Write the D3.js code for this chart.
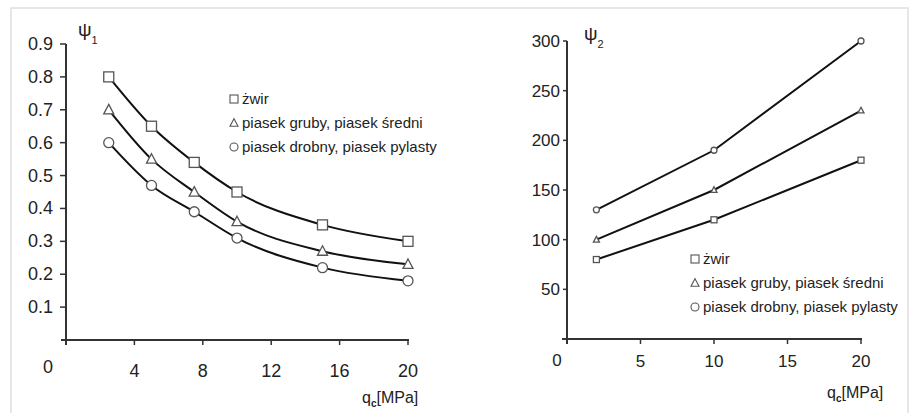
<!DOCTYPE html>
<html>
<head>
<meta charset="utf-8">
<script src="https://cdn.jsdelivr.net/npm/d3@7"></script>
<style>
  body { margin: 0; background: #fff; }
  svg { display: block; font-family: "Liberation Sans", Arial, sans-serif; }
</style>
</head>
<body>
<div id="chartSection"></div>
<script>
// left chart: psi1 vs qc
var x1Values = [2.5, 5, 7.5, 10, 15, 20];
var psi1Zwir = [0.80, 0.65, 0.54, 0.45, 0.35, 0.30];
var psi1Gruby = [0.70, 0.55, 0.45, 0.36, 0.27, 0.23];
var psi1Drobny = [0.60, 0.47, 0.39, 0.31, 0.22, 0.18];
var x1Ticks = [4, 8, 12, 16, 20];
var y1Ticks = [0.1, 0.2, 0.3, 0.4, 0.5, 0.6, 0.7, 0.8, 0.9];

// right chart: psi2 vs qc
var x2Values = [2, 10, 20];
var psi2Zwir = [80, 120, 180];
var psi2Gruby = [100, 150, 230];
var psi2Drobny = [130, 190, 300];
var x2Ticks = [5, 10, 15, 20];
var y2Ticks = [50, 100, 150, 200, 250, 300];

var legendLabels = ["żwir", "piasek gruby, piasek średni", "piasek drobny, piasek pylasty"];
var markerTypes = ["square", "triangle", "circle"];

var width = 912, height = 413;
var svg = d3.select("#chartSection").append("svg")
    .attr("width", width)
    .attr("height", height);

// light frame round the figure
svg.append("rect")
    .attr("x", 11).attr("y", 8)
    .attr("width", 897).attr("height", 420)
    .attr("fill", "none")
    .attr("stroke", "#dedede")
    .attr("stroke-width", 1.5);

function marker(g, type, cx, cy, s) {
    if (type == "square") {
        g.append("rect")
            .attr("x", cx - s / 2).attr("y", cy - s / 2)
            .attr("width", s).attr("height", s);
    } else if (type == "triangle") {
        var h = s * 0.9;
        g.append("path")
            .attr("d", `M${cx},${cy - h * 0.6}L${cx + s / 2},${cy + h * 0.45}L${cx - s / 2},${cy + h * 0.45}Z`);
    } else {
        g.append("circle").attr("cx", cx).attr("cy", cy).attr("r", s / 2);
    }
}

function drawPanel(opts) {
    var g = svg.append("g");
    var xScale = d3.scaleLinear().domain([0, 20]).range(opts.xRange);
    var yScale = d3.scaleLinear().domain([0, opts.yMax]).range(opts.yRange);

    var x0 = xScale(0), y0 = yScale(0);

    // axes
    var axisColor = "#333";
    g.append("line")
        .attr("x1", x0 - 5).attr("x2", xScale(20) + 1)
        .attr("y1", y0).attr("y2", y0)
        .attr("stroke", axisColor).attr("stroke-width", 2);
    g.append("line")
        .attr("x1", x0).attr("x2", x0)
        .attr("y1", yScale(opts.yMax)).attr("y2", y0 + 5)
        .attr("stroke", axisColor).attr("stroke-width", 2);

    g.selectAll(".xt").data(opts.xTicks).enter().append("line")
        .attr("x1", d => xScale(d)).attr("x2", d => xScale(d))
        .attr("y1", y0).attr("y2", y0 + 5)
        .attr("stroke", axisColor).attr("stroke-width", 1.5);
    g.selectAll(".yt").data(opts.yTicks).enter().append("line")
        .attr("x1", x0 - opts.tickLen).attr("x2", x0)
        .attr("y1", d => yScale(d)).attr("y2", d => yScale(d))
        .attr("stroke", axisColor).attr("stroke-width", 1.5);

    g.selectAll(".xl").data(opts.xTicks).enter().append("text")
        .attr("x", d => xScale(d))
        .attr("y", y0 + opts.xLabelDy)
        .attr("text-anchor", "middle")
        .attr("font-size", opts.fontSize)
        .attr("fill", "#222")
        .text(d => d);
    g.selectAll(".yl").data(opts.yTicks).enter().append("text")
        .attr("x", x0 - opts.yLabelGap)
        .attr("y", d => yScale(d) + 6)
        .attr("text-anchor", "end")
        .attr("font-size", opts.fontSize)
        .attr("fill", "#222")
        .text(d => opts.yFormat(d));

    // origin label
    g.append("text")
        .attr("x", opts.zeroPos[0]).attr("y", opts.zeroPos[1])
        .attr("text-anchor", "middle")
        .attr("font-size", opts.fontSize).attr("fill", "#222")
        .text("0");

    // psi label
    var yl = g.append("text")
        .attr("x", opts.psiPos[0]).attr("y", opts.psiPos[1])
        .attr("fill", "#222");
    yl.append("tspan").attr("font-size", 19).text("ψ");
    yl.append("tspan").attr("font-size", 11).attr("dy", 8).text(opts.psiSub);

    // x label
    var xl = g.append("text")
        .attr("x", opts.qPos[0]).attr("y", opts.qPos[1])
        .attr("fill", "#222").attr("font-size", 16);
    xl.append("tspan").text("q");
    xl.append("tspan").attr("font-size", 10).attr("font-weight", "bold").attr("dy", 4).text("c");
    xl.append("tspan").attr("dy", -4).text("[MPa]");

    // series
    var line = d3.line()
        .x(d => xScale(d[0]))
        .y(d => yScale(d[1]))
        .curve(opts.curve);

    opts.series.forEach(function(vals, i) {
        var pts = opts.xValues.map((x, j) => [x, vals[j]]);
        g.append("path")
            .datum(pts)
            .attr("d", line)
            .attr("fill", "none")
            .attr("stroke", "#111")
            .attr("stroke-width", 2);
        var mg = g.append("g")
            .attr("fill", "#fff")
            .attr("stroke", "#555")
            .attr("stroke-width", 1.3);
        pts.forEach(function(p) {
            marker(mg, markerTypes[i], xScale(p[0]), yScale(p[1]), opts.markerSize);
        });
    });

    // legend
    legendLabels.forEach(function(lab, i) {
        var ly = opts.legendPos[1] + i * opts.legendStep;
        var mg = g.append("g")
            .attr("fill", "#fff")
            .attr("stroke", "#555")
            .attr("stroke-width", 1.1);
        marker(mg, markerTypes[i], opts.legendPos[0], ly, 8);
        g.append("text")
            .attr("x", opts.legendPos[0] + 8)
            .attr("y", ly + 5)
            .attr("font-size", 15)
            .attr("fill", "#222")
            .text(lab);
    });
}

drawPanel({
    xRange: [66, 408],
    yRange: [340, 44],
    yMax: 0.9,
    xTicks: x1Ticks,
    yTicks: y1Ticks,
    yFormat: d3.format(".1f"),
    fontSize: 18,
    tickLen: 6,
    yLabelGap: 13,
    xLabelDy: 37,
    zeroPos: [48, 373],
    psiPos: [78, 36],
    psiSub: "1",
    qPos: [362, 403],
    xValues: x1Values,
    series: [psi1Zwir, psi1Gruby, psi1Drobny],
    curve: d3.curveMonotoneX,
    markerSize: 10,
    legendPos: [234, 99],
    legendStep: 24
});

drawPanel({
    xRange: [567, 861],
    yRange: [339, 41],
    yMax: 300,
    xTicks: x2Ticks,
    yTicks: y2Ticks,
    yFormat: d3.format("d"),
    fontSize: 17,
    tickLen: 4,
    yLabelGap: 7,
    xLabelDy: 28,
    zeroPos: [557, 366],
    psiPos: [584, 40],
    psiSub: "2",
    qPos: [827, 398],
    xValues: x2Values,
    series: [psi2Zwir, psi2Gruby, psi2Drobny],
    curve: d3.curveLinear,
    markerSize: 6,
    legendPos: [695, 259],
    legendStep: 24
});
</script>
</body>
</html>
